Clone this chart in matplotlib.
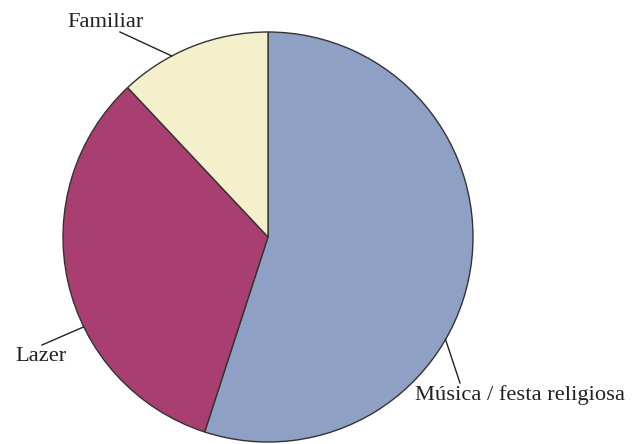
import numpy as np
import matplotlib.pyplot as plt

labels = ['Música / festa religiosa', 'Lazer', 'Familiar']
shares = [55, 33, 12]
colors = ['#8FA0C5', '#A93E70', '#F3F0CB']

# where each leader line touches the rim (degrees) and where its label sits
rim_angles = [-30, 206, 118]
label_pos = [(520, 49), (41, 88), (106, 421)]
line_ends = [(460, 61), (42, 99), (120, 412)]

plt.rcParams['font.family'] = ['Liberation Serif', 'DejaVu Serif']

fig = plt.figure(figsize=(6.35, 4.44), dpi=100)
ax = fig.add_axes([0, 0, 1, 1])

cx, cy, r = 268, 207, 205
ax.pie(shares, colors=colors, startangle=90, counterclock=False,
       center=(cx, cy), radius=r, frame=True,
       wedgeprops=dict(edgecolor='#333333', linewidth=1.0))
ax.set_xlim(0, 635)
ax.set_ylim(0, 444)
ax.set_aspect('equal')
ax.axis('off')

for lab, ang, (tx, ty), (ex, ey) in zip(labels, rim_angles, label_pos, line_ends):
    a = np.deg2rad(ang)
    x0, y0 = cx + r * np.cos(a), cy + r * np.sin(a)
    ax.plot([x0, ex], [y0, ey], color='#222222', lw=1.0)
    ax.text(tx, ty, lab, fontsize=16.2, color='#222222', ha='center', va='center')

fig.savefig('out.png', dpi=100)
